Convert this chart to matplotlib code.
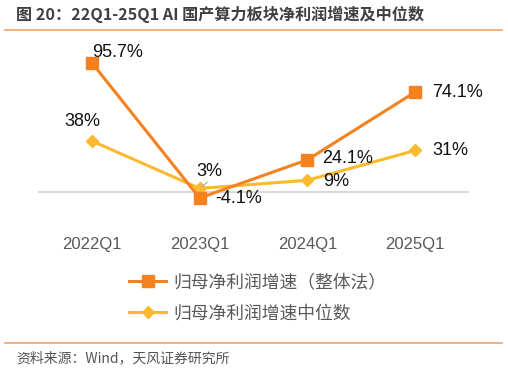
import matplotlib
matplotlib.use("Agg")
from matplotlib import pyplot as plt
from matplotlib.lines import Line2D

plt.rcParams['font.family'] = ['Liberation Sans', 'Noto Sans CJK SC', 'DejaVu Sans']

quarters = ['2022Q1', '2023Q1', '2024Q1', '2025Q1']
overall = [95.7, -4.1, 24.1, 74.1]
median = [38, 3, 9, 31]
overall_labels = ['95.7%', '-4.1%', '24.1%', '74.1%']
median_labels = ['38%', '3%', '9%', '31%']

c_orange = '#F5821F'
c_yellow = '#FBB92D'
cjk = ['Noto Sans CJK SC', 'DejaVu Sans']

fig = plt.figure(figsize=(5.08, 3.72), dpi=100)
W, H = 508, 372

# title and frame lines
fig.text(16 / W, 1 - 14 / H, '图 20：22Q1-25Q1 AI 国产算力板块净利润增速及中位数',
         fontsize=11.6, fontweight='bold', color='#404040', va='center', ha='left',
         family=cjk)
fig.add_artist(Line2D([5 / W, 502 / W], [1 - 29.5 / H] * 2, color='#F4A261', lw=1.2))
fig.add_artist(Line2D([5 / W, 502 / W], [1 - 343 / H] * 2, color='#F4A261', lw=1.2))
fig.text(16 / W, 1 - 358 / H, '资料来源：Wind，天风证券研究所', fontsize=10, color='#555555',
         va='center', ha='left', family=cjk)

ax = fig.add_axes([38 / W, 1 - 225 / H, (469 - 38) / W, (225 - 38) / H])
x = list(range(len(quarters)))
ax.axhline(0, color='#d9d9d9', lw=1.5, zorder=1)
l1, = ax.plot(x, overall, color=c_orange, lw=2.2, marker='s', ms=9, zorder=3)
l2, = ax.plot(x, median, color=c_yellow, lw=2.2, marker='D', ms=6, zorder=2)

ax.set_xlim(-0.5, 3.5)
ax.set_ylim(-24, 114)
for s in ax.spines.values():
    s.set_visible(False)
ax.set_yticks([])
ax.set_xticks(x)
ax.set_xticklabels(quarters, fontsize=12, color='#595959')
ax.tick_params(axis='x', length=0, pad=9)

# data labels (offsets in pixels)
o_off = [(0, 10, 'left'), (16, 0, 'left'), (15, 1, 'left'), (17, 0, 'left')]
m_off = [(-10, 19, 'center'), (10, 17, 'center'), (16, -1, 'left'), (17, 0, 'left')]
for i in x:
    dx, dy, ha = o_off[i]
    ax.annotate(overall_labels[i], (i, overall[i]), xytext=(dx, dy), textcoords='offset pixels',
                ha=ha, va='center', fontsize=13, color='#111111')
    dx, dy, ha = m_off[i]
    ax.annotate(median_labels[i], (i, median[i]), xytext=(dx, dy), textcoords='offset pixels',
                ha=ha, va='center', fontsize=13, color='#111111')
# leader line for 3%
ax.annotate('', (1, median[1]), xytext=(10, 8), textcoords='offset pixels',
            arrowprops=dict(arrowstyle='-', color='#aaaaaa', lw=0.8))

leg = fig.legend([l1, l2], ['归母净利润增速（整体法）', '归母净利润增速中位数'],
                 loc='upper left', bbox_to_anchor=(113 / W, 1 - 257 / H), frameon=False,
                 labelcolor='#595959', handlelength=2.1, handletextpad=0.4, labelspacing=0.75,
                 prop={'family': cjk, 'size': 12.8})

fig.savefig('out.png', dpi=100)
